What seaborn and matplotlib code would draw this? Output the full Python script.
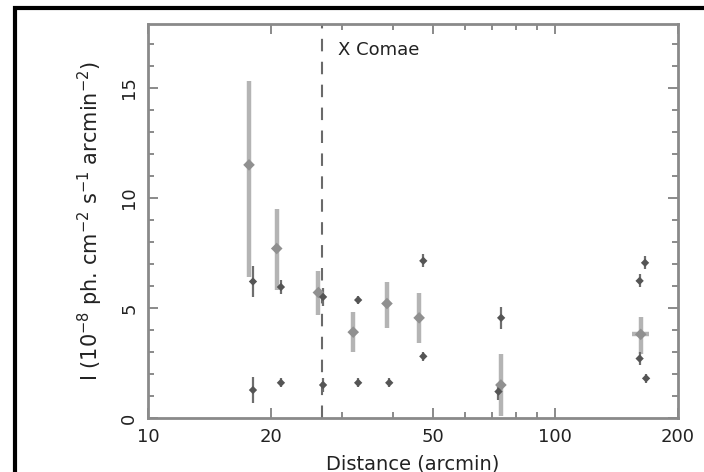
import numpy as np
import pandas as pd
import matplotlib
matplotlib.use("Agg")
import matplotlib.pyplot as plt
from matplotlib.patches import Rectangle
import seaborn as sns

# broad-error points (grey) : distance (arcmin), intensity, lower / upper error
grey_x = [17.7, 20.7, 26.2, 31.9, 38.6, 46.3, 73.5, 162.0]
grey_y = [11.5, 7.7, 5.7, 3.9, 5.2, 4.55, 1.5, 3.8]
grey_lo = [5.1, 1.9, 1.0, 0.9, 1.1, 1.15, 1.4, 0.9]
grey_hi = [3.8, 1.8, 1.0, 0.9, 1.0, 1.15, 1.4, 0.8]
grey_xerr = [0, 0, 0, 0, 0, 0, 0, 8.0]

# small points (dark)
dark_x = [18.1, 18.1, 21.2, 21.2, 26.9, 26.9, 32.8, 32.8, 39.1,
          47.4, 47.4, 73.6, 72.5, 161.0, 166.0, 161.0, 167.0]
dark_y = [6.2, 1.27, 5.95, 1.6, 5.5, 1.5, 5.36, 1.6, 1.6,
          7.14, 2.8, 4.55, 1.2, 6.23, 7.05, 2.7, 1.8]
dark_err = [0.7, 0.6, 0.3, 0.2, 0.4, 0.3, 0.2, 0.2, 0.2,
            0.3, 0.2, 0.5, 0.4, 0.3, 0.3, 0.3, 0.2]

coma_x = 26.8
xticks = [10, 20, 50, 100, 200]
xminor = [30, 40, 60, 70, 80, 90]

sns.set_style("ticks")
plt.rcParams['font.family'] = ['DejaVu Sans']

grey_df = pd.DataFrame({"dist": grey_x, "I": grey_y})
dark_df = pd.DataFrame({"dist": dark_x, "I": dark_y})

fig = plt.figure(figsize=(7.04, 4.72), dpi=100)
ax = fig.add_axes([148 / 704, 1 - 418 / 472, 530 / 704, 394 / 472])

ax.errorbar(grey_x, grey_y, yerr=[grey_lo, grey_hi], xerr=grey_xerr, fmt="none",
            ecolor="#b4b4b4", elinewidth=3.2, capsize=0, zorder=2)
ax.errorbar(dark_x, dark_y, yerr=dark_err, fmt="none",
            ecolor="#6e6e6e", elinewidth=1.6, capsize=0, zorder=3)
sns.scatterplot(data=grey_df, x="dist", y="I", ax=ax, marker="D", s=35,
                color="#909090", edgecolor="none", zorder=4)
sns.scatterplot(data=dark_df, x="dist", y="I", ax=ax, marker="D", s=18,
                color="#555555", edgecolor="none", zorder=5)

ax.axvline(coma_x, color="#6a6a6a", lw=1.5, linestyle=(0, (6, 5)), zorder=1)
ax.text(coma_x * 1.09, 16.7, "X Comae", fontsize=13, color="#222222", va="center")

ax.set_xscale("log")
ax.set_xlim(10, 200)
ax.set_ylim(0, 17.9)
ax.set_xticks(xticks)
ax.set_xticklabels([str(t) for t in xticks])
ax.set_xticks(xminor, minor=True)
ax.set_xticklabels([], minor=True)
ax.set_yticks([0, 5, 10, 15])
ax.set_yticks(np.arange(0, 18, 1), minor=True)
ax.set_yticklabels(["0", "5", "10", "15"], rotation=90, va="center")

ax.tick_params(which="both", direction="in", top=True, right=True,
               color="#777777", width=1.2, labelsize=13, labelcolor="#222222")
ax.tick_params(which="major", length=7, pad=7)
ax.tick_params(which="minor", length=4)
for s in ax.spines.values():
    s.set_color("#8a8a8a")
    s.set_linewidth(2)

ax.set_xlabel("Distance (arcmin)", fontsize=14, color="#222222", labelpad=6)
ax.set_ylabel(r"I (10$^{-8}$ ph. cm$^{-2}$ s$^{-1}$ arcmin$^{-2}$)",
              fontsize=15, color="#222222", labelpad=11)

# thick scan frame
fig.patches.append(Rectangle((15 / 704, -0.1), 1.2, 1 - 8 / 472 + 0.1, fill=False,
                             edgecolor="black", linewidth=3, transform=fig.transFigure))

fig.savefig("out.png", dpi=100)
